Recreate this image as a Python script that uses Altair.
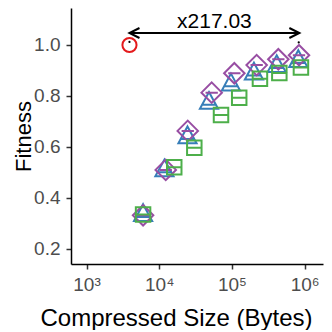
import altair as alt
import pandas as pd

# --- data ---
tri_x = [6.0e3, 1.18e4, 2.45e4, 4.84e4, 9.7e4, 2.01e5, 4.13e5, 8.19e5]
tri_y = [0.340, 0.515, 0.645, 0.780, 0.852, 0.895, 0.924, 0.944]
dia_x = [6.0e3, 1.23e4, 2.47e4, 5.27e4, 1.08e5, 2.19e5, 4.35e5, 8.37e5]
dia_y = [0.332, 0.510, 0.663, 0.813, 0.889, 0.921, 0.944, 0.960]
sq_x = [6.0e3, 1.61e4, 3.04e4, 7.08e4, 1.26e5, 2.43e5, 4.49e5, 8.9e5]
sq_y = [0.335, 0.520, 0.597, 0.725, 0.793, 0.868, 0.890, 0.912]
base_x = [3.9e3]
base_y = [1.0]
ratio = 217.03
arrow_y = 1.047
label_y = 1.067
x_ticks = [1e3, 1e4, 1e5, 1e6]
x_tick_labels = ["10³", "10⁴", "10⁵", "10⁶"]
y_ticks = [0.2, 0.4, 0.6, 0.8, 1.0]

BLUE, GREEN, PURPLE, RED = "#377EB8", "#4DAF4A", "#984EA3", "#E41A1C"

X_DOM = [612, 1.79e6]
Y_DOM = [0.141, 1.145]

expr = "''"
for v, lab in reversed(list(zip(x_ticks, x_tick_labels))):
    expr = f"(abs(datum.value - {v}) < {v*0.01}) ? '{lab}' : {expr}"

xs = alt.Scale(type="log", domain=X_DOM, nice=False)
ys = alt.Scale(domain=Y_DOM, nice=False, zero=False)

x_axis = alt.Axis(values=x_ticks, labelExpr=expr, title="Compressed Size (Bytes)",
                  titleX=105, titleY=61, titleAlign="center", titleBaseline="alphabetic",
                  labelPadding=6)
y_axis = alt.Axis(values=y_ticks, format=".1f", title="Fitness",
                  titleX=-41, titleBaseline="alphabetic", titleAngle=270, labelPadding=6,
                  titleFontSize=22)

tri_path = "M0,-1L1,0.85L-1,0.85Z M-0.76,0.4L0.76,0.4"
dia_path = "M0,-1L1,0L0,1L-1,0Z M-0.6,0L0.6,0"
sq_path = "M-1,-1L1,-1L1,1L-1,1Z M-1,0L1,0"

def series(xv, yv, shape, color, size):
    df = pd.DataFrame({"x": xv, "y": yv})
    return alt.Chart(df).mark_point(shape=shape, filled=False, color=color,
                                     size=size, strokeWidth=2, opacity=1).encode(
        x=alt.X("x:Q", scale=xs, axis=x_axis),
        y=alt.Y("y:Q", scale=ys, axis=y_axis),
    )

tri = series(tri_x, tri_y, tri_path, BLUE, 330)
dia = series(dia_x, dia_y, dia_path, PURPLE, 420)
sq = series(sq_x, sq_y, sq_path, GREEN, 210)

base = alt.Chart(pd.DataFrame({"x": base_x, "y": base_y})).mark_point(
    shape="circle", filled=False, color=RED, size=200, strokeWidth=2, opacity=1
).encode(x=alt.X("x:Q", scale=xs), y=alt.Y("y:Q", scale=ys))

x0 = base_x[0]
x1 = base_x[0] * ratio
arrow_df = pd.DataFrame({"x": [x0], "x2": [x1], "y": [arrow_y]})
rule = alt.Chart(arrow_df).mark_rule(color="black", strokeWidth=2).encode(
    x=alt.X("x:Q", scale=xs), x2="x2:Q", y=alt.Y("y:Q", scale=ys))

heads_df = pd.DataFrame({"x": [x0], "y": [arrow_y]})
head_l = alt.Chart(heads_df).mark_point(shape="M1,-0.5L0,0L1,0.5", filled=False,
                                         color="black", size=400, strokeWidth=2, opacity=1).encode(
    x=alt.X("x:Q", scale=xs), y=alt.Y("y:Q", scale=ys))
heads_r = pd.DataFrame({"x": [x1], "y": [arrow_y]})
head_r = alt.Chart(heads_r).mark_point(shape="M-1,-0.5L0,0L-1,0.5", filled=False,
                                        color="black", size=400, strokeWidth=2, opacity=1).encode(
    x=alt.X("x:Q", scale=xs), y=alt.Y("y:Q", scale=ys))

lab_df = pd.DataFrame({"x": [(x0 * x1) ** 0.5], "y": [label_y], "t": [f"x{ratio:.2f}"]})
label = alt.Chart(lab_df).mark_text(fontSize=21, color="black", align="center",
                                     baseline="alphabetic", font="Liberation Sans").encode(
    x=alt.X("x:Q", scale=xs), y=alt.Y("y:Q", scale=ys), text="t:N")

dots_df = pd.DataFrame({"x": [x0, 8.3e5], "y": [1.012, 1.01]})
dots = alt.Chart(dots_df).mark_point(shape="circle", filled=True, color="black", size=5, opacity=1).encode(
    x=alt.X("x:Q", scale=xs), y=alt.Y("y:Q", scale=ys))

chart = alt.layer(tri, dia, sq, base, rule, head_l, head_r, label, dots).properties(
    width=252, height=256,
    autosize=alt.AutoSizeParams(type="none"),
    padding={"left": 63, "top": 0, "right": 1, "bottom": 66},
).configure_view(stroke=None).configure_axis(
    grid=False, domainColor="black", domainWidth=1.5, tickColor="#333333", tickWidth=1.5,
    tickSize=5, labelColor="#4D4D4D", labelFontSize=19, labelFont="Liberation Sans",
    titleFont="Liberation Sans", titleFontSize=24, titleFontWeight="normal", titleColor="black",
)

chart.save("out.html", embed_options={"renderer": "svg", "actions": False})
